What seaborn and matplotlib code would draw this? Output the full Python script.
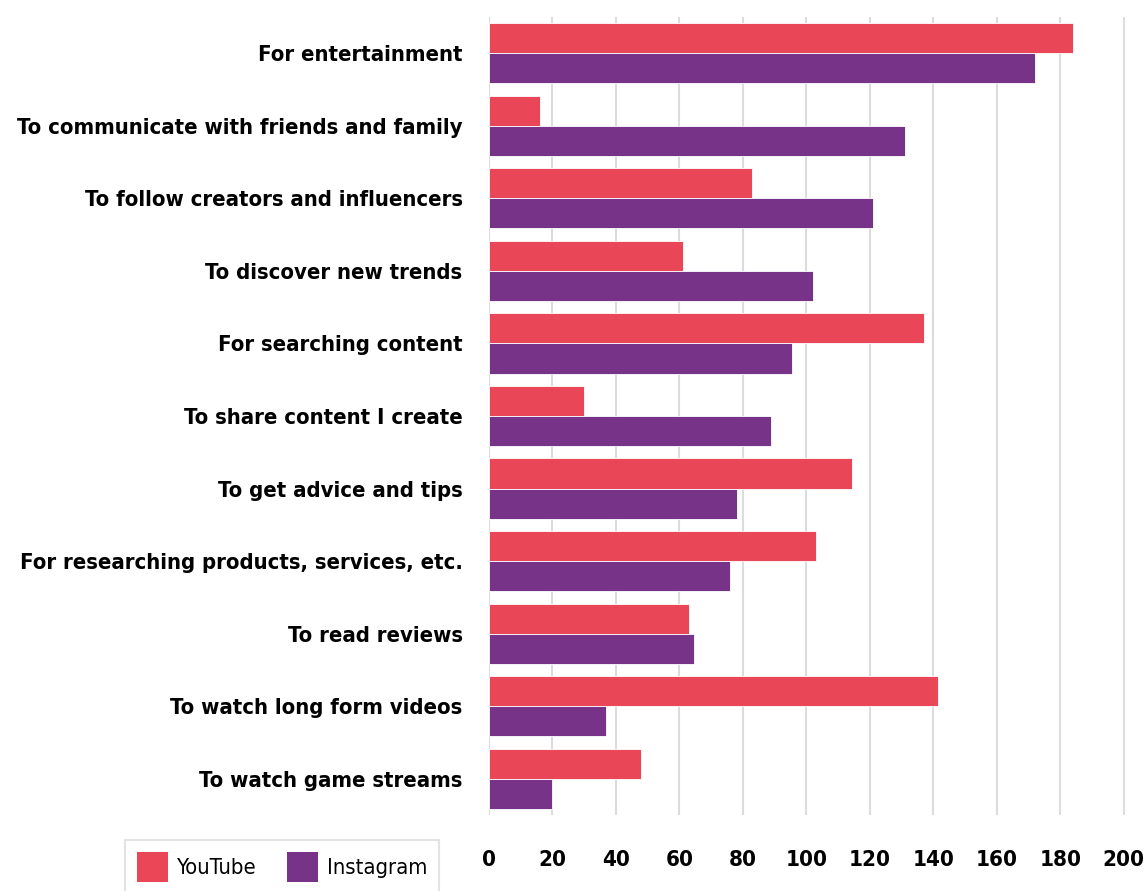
import matplotlib
matplotlib.use("Agg")
import matplotlib.pyplot as plt
from matplotlib import font_manager as fm
import seaborn as sns
import pandas as pd

categories = [
    "For entertainment",
    "To communicate with friends and family",
    "To follow creators and influencers",
    "To discover new trends",
    "For searching content",
    "To share content I create",
    "To get advice and tips",
    "For researching products, services, etc.",
    "To read reviews",
    "To watch long form videos",
    "To watch game streams",
]
youtube = [184, 16, 83, 61, 137, 30, 114.5, 103, 63, 141.5, 48]
instagram = [172, 131, 121, 102, 95.5, 89, 78, 76, 64.5, 37, 20]
series = ["YouTube", "Instagram"]
colors = ["#E94657", "#773388"]
xticks = [0, 20, 40, 60, 80, 100, 120, 140, 160, 180, 200]

df = pd.DataFrame({
    "category": categories * 2,
    "value": youtube + instagram,
    "platform": [series[0]] * len(categories) + [series[1]] * len(categories),
})

# choose a condensed face if one is installed
cond = [f for f in fm.fontManager.ttflist
        if ("Narrow" in f.name or "Condensed" in f.name
            or f.stretch in ("condensed", "semi-condensed", "extra-condensed"))]
pref = ["Liberation Sans Narrow", "DejaVu Sans", "Roboto", "Open Sans"]
family = "Liberation Sans"
stretch = "normal"
for p in pref:
    hits = [f for f in cond if f.name == p]
    if hits:
        family = p
        stretch = hits[0].stretch if hits[0].stretch != "normal" else "normal"
        break
else:
    if cond:
        family = cond[0].name

sns.set_style("white")
plt.rcParams["font.family"] = [family, "DejaVu Sans"]
if stretch != "normal":
    plt.rcParams["font.stretch"] = stretch
plt.rcParams["text.color"] = "black"
plt.rcParams["xtick.color"] = "black"
plt.rcParams["ytick.color"] = "black"

fig = plt.figure(figsize=(11.45, 8.91), dpi=100)
renderer = fig.canvas.get_renderer()

def fit_size(text, target_px, weight, base=20):
    t = fig.text(0, 0, text, fontsize=base, fontweight=weight)
    w = t.get_window_extent(renderer).width
    t.remove()
    return base * target_px / w

label_size = min(fit_size("For researching products, services, etc.", 444, "bold"), 21)
tick_size = min(fit_size("200", 42, "bold"), 21)
leg_size = min(fit_size("Instagram", 101, "normal"), 20)
leg_px = leg_size * 100 / 72

ax = fig.add_axes([489 / 1145, 1 - 815 / 891, (1130 - 489) / 1145, (815 - 17) / 891])

sns.barplot(data=df, y="category", x="value", hue="platform", order=categories,
            hue_order=series, palette=colors, saturation=1, orient="h", width=0.83,
            edgecolor="white", linewidth=0.6, ax=ax, legend=False, zorder=3)

ax.set_xlim(0, 202)
ax.set_ylim(len(categories) - 0.5, -0.5)
ax.set_xticks(xticks)
ax.set_xticklabels([str(t) for t in xticks], fontsize=tick_size, fontweight="bold")
ax.tick_params(axis="x", pad=25, length=0)
ax.tick_params(axis="y", pad=19, length=0)
for lab in ax.get_yticklabels():
    lab.set_fontsize(label_size)
    lab.set_fontweight("bold")
ax.set_xlabel("")
ax.set_ylabel("")
ax.grid(axis="x", color="#dcdcdc", linewidth=1.5, zorder=0)
ax.grid(axis="y", visible=False)
for s in ax.spines.values():
    s.set_visible(False)

handles = [plt.Rectangle((0, 0), 1, 1, facecolor=c, edgecolor="none") for c in colors]
leg = fig.legend(handles, series, loc="upper left", bbox_to_anchor=(125 / 1145, 1 - 840 / 891),
                 borderaxespad=0,
                 ncol=2, frameon=True, fancybox=False, fontsize=leg_size,
                 handlelength=31 / leg_px, handleheight=37 / leg_px,
                 handletextpad=9 / leg_px, columnspacing=30 / leg_px,
                 borderpad=0.55)
leg.get_frame().set_edgecolor("#dcdcdc")
leg.get_frame().set_linewidth(1.5)

fig.savefig("out.png", dpi=100)
